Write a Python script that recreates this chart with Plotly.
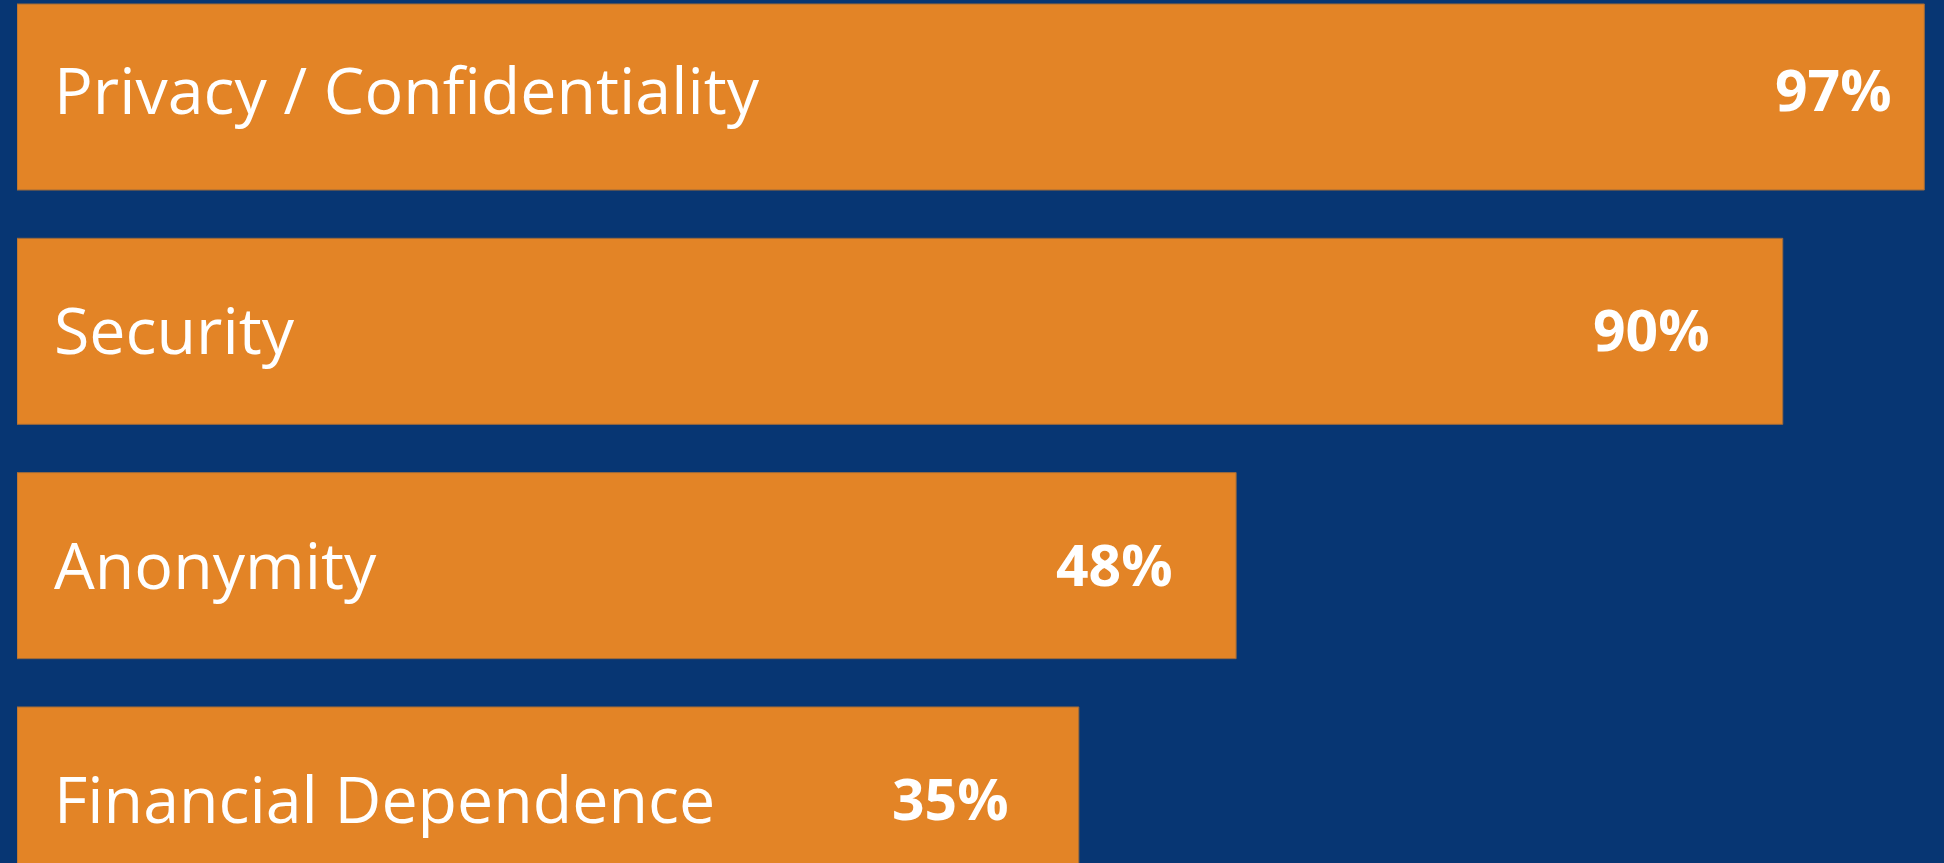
import plotly.graph_objects as go

categories = ["Privacy / Confidentiality", "Security", "Anonymity", "Financial Dependence"]
percent_labels = [97, 90, 48, 35]
# bar lengths as drawn in the infographic (not proportional to the labels)
bar_lengths = [97, 89.8, 62, 54]

ORANGE = "#E38426"
NAVY = "#073673"
label_offsets_px = [30, 71, 61, 68]
label_yshift_px = [6, 0, 0, 0]

fig = go.Figure()
fig.add_trace(go.Bar(
    y=categories, x=bar_lengths, orientation="h",
    marker=dict(color=ORANGE, line=dict(color="#9C6A3C", width=1)),
    hoverinfo="skip",
))

annotations = []
for i, (cat, pct, length) in enumerate(zip(categories, percent_labels, bar_lengths)):
    annotations.append(dict(
        x=0, y=cat, xref="x", yref="y", text=cat, showarrow=False,
        xanchor="left", yanchor="middle", xshift=35, yshift=label_yshift_px[i] + 2,
        font=dict(family="Open Sans", size=64.5, color="white"),
    ))
    annotations.append(dict(
        x=length, y=cat, xref="x", yref="y", text=f"<b>{pct}%</b>", showarrow=False,
        xanchor="right", yanchor="middle", xshift=-label_offsets_px[i], yshift=label_yshift_px[i] + 2,
        font=dict(family="Open Sans", size=57, color="white"),
    ))

fig.update_layout(
    width=1944, height=863,
    margin=dict(l=17, r=0, t=0, b=0),
    paper_bgcolor=NAVY, plot_bgcolor=NAVY,
    bargap=0.206, showlegend=False,
    xaxis=dict(range=[0, 98], visible=False, fixedrange=True),
    yaxis=dict(range=[3.269, -0.414], visible=False, fixedrange=True),
    annotations=annotations,
)

fig.write_html(
    "out.html",
    config={"displayModeBar": False},
    post_script="document.body.style.margin='0';document.body.style.overflow='hidden';",
)
